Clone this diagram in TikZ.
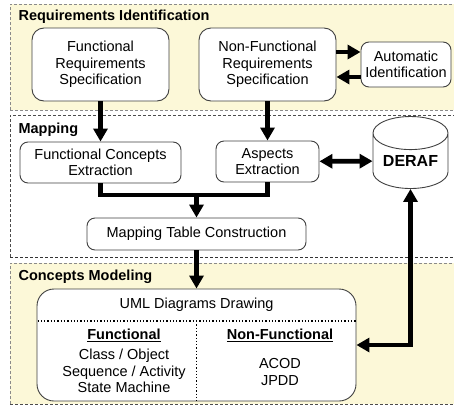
\documentclass[tikz,border=0pt]{standalone}
\usepackage{fontspec}
\setmainfont{Liberation Sans}
\usepackage{tikz}
\usetikzlibrary{arrows.meta,shapes.geometric}

\definecolor{panelyellow}{HTML}{FCF8D8}
\definecolor{panelline}{HTML}{8A8A8A}
\definecolor{boxline}{HTML}{404040}

\begin{document}
\begin{tikzpicture}[x=1pt, y=-1pt,
    font=\fontsize{14.5}{16.5}\selectfont,
    panel/.style={draw=panelline, dash pattern=on 3pt off 2pt, line width=0.9pt},
    title/.style={anchor=west, font=\fontsize{14.5}{16.5}\selectfont\bfseries},
    box/.style={shape=rectangle, draw=boxline, fill=white, line width=0.9pt, rounded corners=8pt, align=center, inner sep=2pt},
    txt/.style={align=center, inner sep=0pt},
    arr/.style={line width=4.7pt, -{Triangle[length=13pt,width=14pt]}},
    dblarr/.style={line width=4.7pt, {Triangle[length=13pt,width=14pt]}-{Triangle[length=13pt,width=14pt]}},
    conn/.style={line width=4.7pt}]
  \path[use as bounding box, clip] (0,0) rectangle (454,407);

  % panels
  \fill[panelyellow] (10,4) rectangle (470,110);
  \draw[panel] (10,110) -- (10,4) -- (470,4);
  \draw[panel] (10,110) -- (470,110);
  \draw[panel, draw=black!70] (10,257) -- (10,115) -- (470,115);
  \draw[panel, draw=black!80] (10,257) -- (470,257);
  \fill[panelyellow] (10,263) rectangle (470,404);
  \draw[panel] (10,404) -- (10,263) -- (470,263);
  \draw[panel, draw=black!70] (10,404) -- (470,404);

  \node (reqtitle) at (15,17) [title] {Requirements Identification};
  \node (maptitle) at (15,130) [title] {Mapping};
  \node (modtitle) at (15,277) [title] {Concepts Modeling};

  % requirements
  \node (frs) at (100.5,64.5) [box, minimum width=137pt, minimum height=73pt, rounded corners=12pt] {Functional\\Requirements\\Specification};
  \node (nfrs) at (267.5,64.5) [box, minimum width=137pt, minimum height=73pt, rounded corners=12pt] {Non-Functional\\Requirements\\Specification};
  \node (autoid) at (406,64.5) [box, minimum width=90pt, minimum height=45pt] {Automatic\\Identification};

  % mapping
  \node (fce) at (100.5,162.5) [box, minimum width=161pt, minimum height=41pt] {Functional Concepts\\Extraction};
  \node (ae) at (267.5,161.5) [box, minimum width=103pt, minimum height=41pt] {Aspects\\Extraction};
  \node (deraf) at (410.5,161) [shape=cylinder, shape border rotate=90, aspect=0.6, draw=boxline, fill=white, line width=0.9pt, minimum width=75pt, minimum height=72pt, inner sep=0pt, font=\fontsize{16}{18}\selectfont\bfseries] {\raisebox{-7pt}{DERAF}};
  \node (mtc) at (196.5,234) [box, minimum width=219pt, minimum height=32pt] {Mapping Table Construction};
  \coordinate (merge) at (196.5,195);

  % modeling
  \node (uml) at (196.5,345) [box, minimum width=319pt, minimum height=112pt, rounded corners=17pt] {};
  \node (umltitle) at (196.5,305) [txt] {UML Diagrams Drawing};
  \node (funchead) at (124,335) [txt, font=\fontsize{14.5}{16.5}\selectfont\bfseries] {\underline{Functional}};
  \node (funclist) at (124,371) [txt] {Class / Object\\Sequence / Activity\\State Machine};
  \node (nfhead) at (280,335) [txt, font=\fontsize{14.5}{16.5}\selectfont\bfseries] {\underline{Non-Functional}};
  \node (nflist) at (280,372) [txt] {ACOD\\JPDD};
  \draw[line width=1.3pt, dotted] (37.5,321) -- (355.5,321);
  \draw[line width=1.3pt, dotted] (196.5,321) -- (uml.south);

  % connectors
  \draw[arr] (frs) -- (fce);
  \draw[arr] (nfrs) -- (ae);
  \draw[arr] ([yshift=12.5pt]nfrs.east) -- ([yshift=12.5pt]nfrs.east -| autoid.west);
  \draw[arr] ([yshift=-12.5pt]autoid.west) -- ([yshift=-12.5pt]autoid.west -| nfrs.east);
  \draw[dblarr] (ae) -- (deraf);
  \draw[conn] (fce.south) |- (merge) -| (ae.south);
  \draw[arr] (merge) -- (mtc);
  \draw[arr] (mtc) -- (uml);
  \draw[dblarr] (uml.east) -| (deraf.south);
\end{tikzpicture}
\end{document}
